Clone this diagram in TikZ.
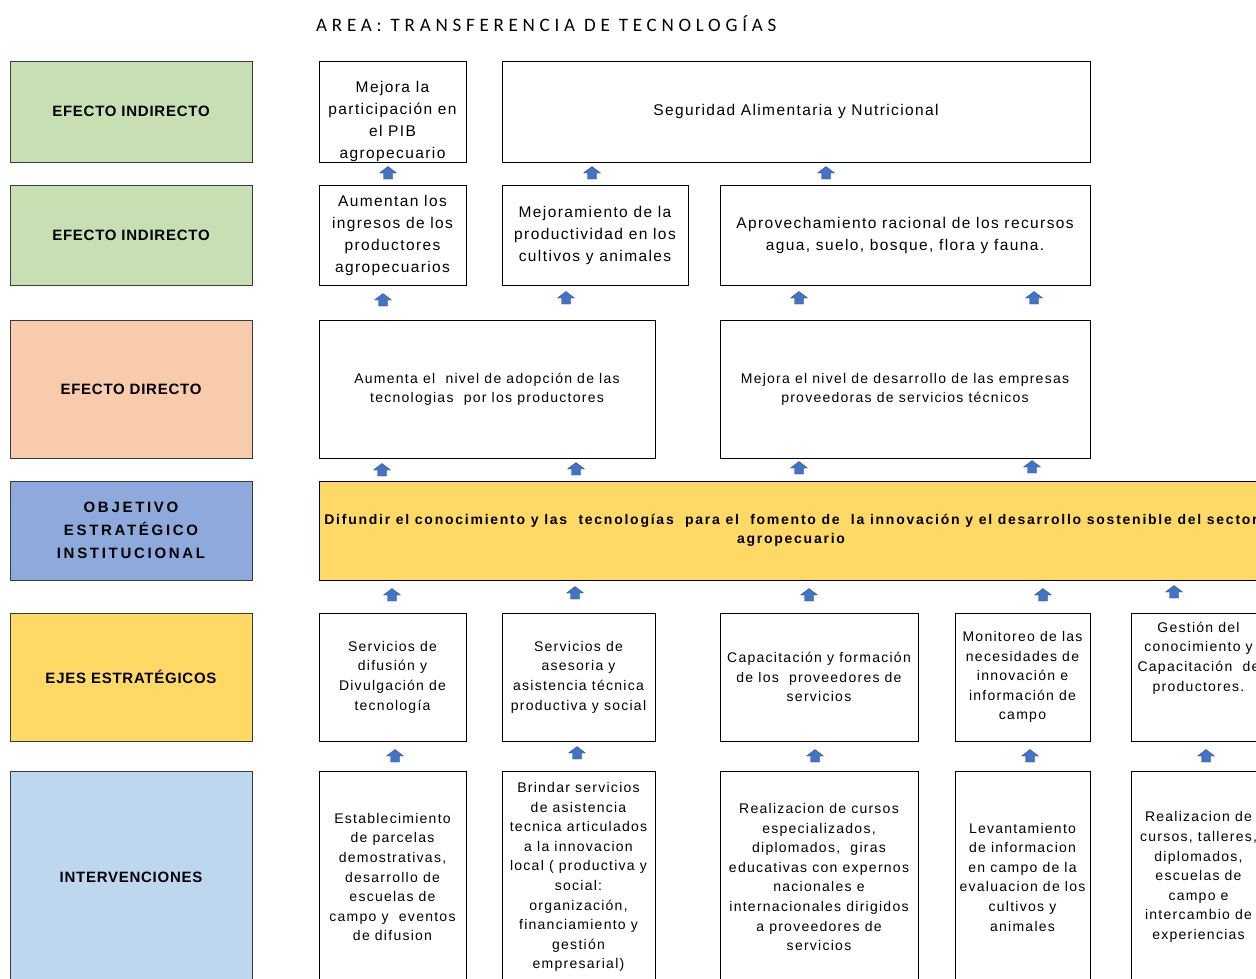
\documentclass[tikz,border=0pt]{standalone}
\usepackage{fontspec}
\setmainfont{Liberation Sans}
\newfontfamily\ftitle{Carlito}[LetterSpace=25]
\newfontfamily\fbody{Liberation Sans}[LetterSpace=9]
\newfontfamily\fbold{Liberation Sans}[LetterSpace=12.5]
\newfontfamily\flab{Liberation Sans}[LetterSpace=5]
\newfontfamily\flabw{Liberation Sans}[LetterSpace=18]
\definecolor{cgreen}{HTML}{C6E0B4}
\definecolor{corange}{HTML}{F8CBAD}
\definecolor{cblue}{HTML}{8EA9DB}
\definecolor{cyellow}{HTML}{FFD966}
\definecolor{clblue}{HTML}{BDD7EE}
\definecolor{carrow}{RGB}{68,114,196}
\definecolor{carrowd}{RGB}{47,85,151}
\definecolor{cborder}{RGB}{60,60,60}
\begin{document}
\begin{tikzpicture}[x=1pt,y=-1pt,
  lab/.style={draw=cborder,line width=0.8pt,inner sep=0pt,minimum width=242,align=center,
    font={\flab\bfseries\fontsize{15}{23}\selectfont}},
  box/.style={draw=black,line width=0.9pt,inner sep=0pt,align=center,fill=white},
  big/.style={font={\fbody\fontsize{15.5}{22}\selectfont}},
  mid/.style={font={\fbody\fontsize{14}{19}\selectfont}},
  sml/.style={font={\fbody\fontsize{14}{19.6}\selectfont}},
  txt/.style={inner sep=0pt,align=center},
  uparr/.pic={\filldraw[fill=carrow,draw=carrowd,line width=0.4pt]
    (-8.5,0) -- (0,-6.5) -- (8.5,0) -- (4.5,0) -- (4.5,6) -- (-4.5,6) -- (-4.5,0) -- cycle;}
]
\useasboundingbox (0,0) rectangle (1256,978);
\clip (0,0) rectangle (1256,978);
\fill[white] (0,0) rectangle (1256,978);

% title
\node[txt,font={\ftitle\fontsize{19}{22}\selectfont},anchor=west] (title) at (316,24) {AREA: TRANSFERENCIA DE TECNOLOGÍAS};

% left labels
\node[lab,fill=cgreen,minimum height=101] (l1) at (131,111.5) {EFECTO INDIRECTO};
\node[lab,fill=cgreen,minimum height=100] (l2) at (131,235) {EFECTO INDIRECTO};
\node[lab,fill=corange,minimum height=138] (l3) at (131,389) {EFECTO DIRECTO};
\node[lab,fill=cblue,minimum height=99,font={\flabw\bfseries\fontsize{15}{23}\selectfont}] (l4) at (131,530.5) {OBJETIVO\\ESTRATÉGICO\\INSTITUCIONAL};
\node[lab,fill=cyellow,minimum height=128] (l5) at (131,677) {EJES ESTRATÉGICOS};
\node[lab,fill=clblue,minimum height=212] (l6) at (131,877) {INTERVENCIONES};

% row 1
\node[box,minimum width=147,minimum height=101] (r1a) at (392.5,111.5) {};
\node[txt,big] (r1at) at (392.5,121) {Mejora la\\participación en\\el PIB\\agropecuario};
\node[box,big,minimum width=588,minimum height=101] (r1b) at (796,111.5) {Seguridad Alimentaria y Nutricional};

% row 2
\node[box,big,minimum width=147,minimum height=100] (r2a) at (392.5,235) {Aumentan los\\ingresos de los\\productores\\agropecuarios};
\node[box,big,minimum width=186,minimum height=100] (r2b) at (595,235) {Mejoramiento de la\\productividad en los\\cultivos y animales};
\node[box,big,minimum width=370,minimum height=100] (r2c) at (905,235) {Aprovechamiento racional de los recursos\\agua, suelo, bosque, flora y fauna.};

% row 3
\node[box,mid,minimum width=336,minimum height=138] (r3a) at (487,389) {Aumenta el \ nivel de adopción de las\\tecnologias \ por los productores};
\node[box,mid,minimum width=370,minimum height=138] (r3b) at (905,389) {Mejora el nivel de desarrollo de las empresas\\proveedoras de servicios técnicos};

% row 4
\node[box,fill=cyellow,minimum width=944,minimum height=99,font={\fbold\bfseries\fontsize{14}{19.5}\selectfont}] (r4) at (791,530.5)
 {Difundir el conocimiento y las \ tecnologías \ para el \ fomento de \ la innovación y el desarrollo sostenible del sector\\agropecuario};

% row 5
\node[box,sml,minimum width=147,minimum height=128] (r5a) at (392.5,677) {Servicios de\\difusión y\\Divulgación de\\tecnología};
\node[box,sml,minimum width=153,minimum height=128] (r5b) at (578.5,677) {Servicios de\\asesoria y\\asistencia técnica\\productiva y social};
\node[box,sml,minimum width=198,minimum height=128] (r5c) at (819,677) {Capacitación y formación\\de los \ proveedores de\\servicios};
\node[box,sml,minimum width=135,minimum height=128] (r5d) at (1022.5,677) {Monitoreo de las\\necesidades de\\innovación e\\información de\\campo};
\node[box,minimum width=135,minimum height=128] (r5e) at (1198.5,677) {};
\node[txt,sml] (r5et) at (1198.5,658) {Gestión del\\conocimiento y\\Capacitación \ de\\productores.};

% row 6
\node[box,sml,minimum width=147,minimum height=212] (r6a) at (392.5,877) {Establecimiento\\de parcelas\\demostrativas,\\desarrollo de\\escuelas de\\campo y \ eventos\\de difusion};
\node[box,sml,minimum width=153,minimum height=212] (r6b) at (578.5,877) {Brindar servicios\\de asistencia\\tecnica articulados\\a la innovacion\\local ( productiva y\\social:\\organización,\\financiamiento y\\gestión\\empresarial)};
\node[box,sml,minimum width=198,minimum height=212] (r6c) at (819,877) {Realizacion de cursos\\especializados,\\diplomados, \ giras\\educativas con expernos\\nacionales e\\internacionales dirigidos\\a proveedores de\\servicios};
\node[box,sml,minimum width=135,minimum height=212] (r6d) at (1022.5,877) {Levantamiento\\de informacion\\en campo de la\\evaluacion de los\\cultivos y\\animales};
\node[box,sml,minimum width=135,minimum height=212] (r6e) at (1198.5,877) {Realizacion de\\cursos, talleres,\\diplomados,\\escuelas de\\campo e\\intercambio de\\experiencias};

% arrows
\foreach \x/\y in {388/173,592/173,826/173,
                   383/300,566/298,799/298,1034/298,
                   382/470,576/469,799/468,1032/467,
                   392/595,575/593,809/595,1043/595,1174/592,
                   395/756,577/753,815/756,1030/756,1206/756}
  \pic at (\x,\y) {uparr};
\end{tikzpicture}
\end{document}
